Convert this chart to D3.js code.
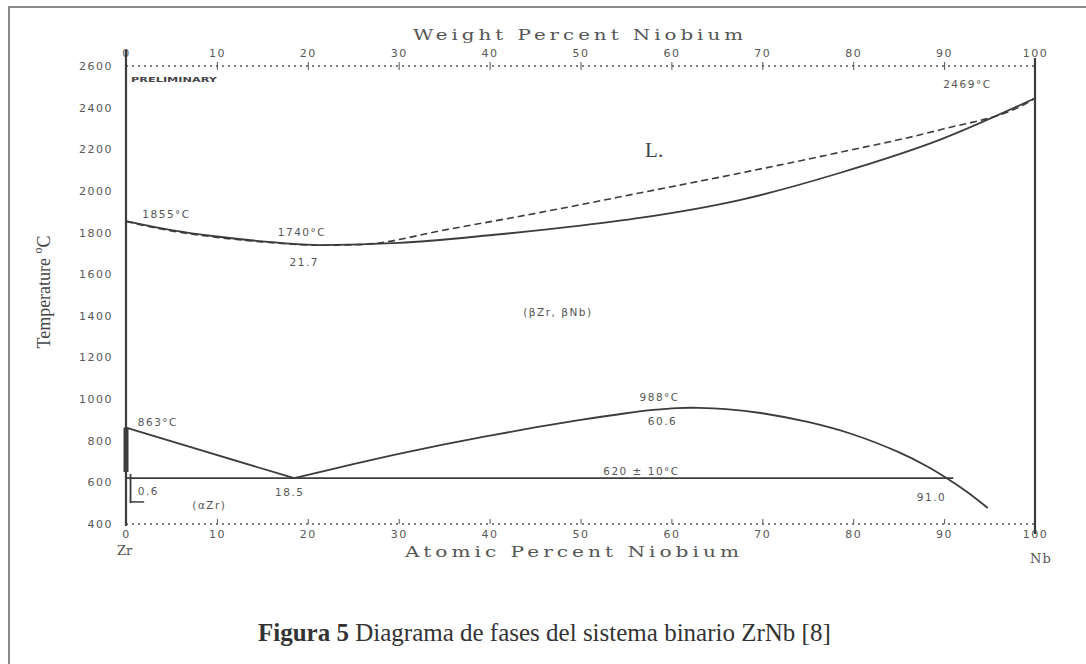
<!DOCTYPE html>
<html>
<head>
<meta charset="utf-8"/>
<script src="https://d3js.org/d3.v7.min.js"></script>
<style>
  body { margin: 0; background: #fff; }
  svg { display: block; }
  .tk text { fill: #585858; font-family: "DejaVu Sans", sans-serif; font-size: 11px; letter-spacing: 1.5px; }
  .tk line { stroke: #555; }
  .note { fill: #555; font-family: "DejaVu Sans", sans-serif; font-size: 10.5px; letter-spacing: 1.5px; }
</style>
</head>
<body>
<script>
// composition ticks (at.% Nb bottom, wt.% Nb top) and temperature ticks
var pctTicks = [0, 10, 20, 30, 40, 50, 60, 70, 80, 90, 100];
var tempTicks = [400, 600, 800, 1000, 1200, 1400, 1600, 1800, 2000, 2200, 2400, 2600];

// liquidus (solid) [at.% Nb, T]
var liquidus = [[0,1855],[5,1812],[10,1781],[15,1758],[21.7,1740],[30,1750],[40,1787],[50,1833],[56.5,1870],[67.5,1956],[78.5,2086],[89.5,2245],[100,2445]];
// solidus (dashed)
var solidus = [[0,1853],[5,1808],[10,1777],[15,1755],[21.7,1739],[25.7,1742],[35.6,1817],[46.6,1905],[56.5,1990],[67.5,2085],[78.5,2185],[89.5,2293],[98.7,2413],[100,2445]];
// beta-Zr -> alpha-Zr boundary
var alphaLine = [[0,863],[18.5,620]];
// miscibility gap (betaZr + betaNb)
var gap = [[18.5,620],[25,688],[30,737],[35,782],[40,824],[45,864],[50,900],[55,932],[58,948],[60.6,957],[63,958],[66,952],[70,932],[75,890],[80,830],[85,745],[88,680],[90.3,620],[92.5,555],[94.8,477]];
// monotectoid isotherm
var monotectoid = [[0,620],[91,620]];
// thick beta-Zr edge on the Zr axis, alpha-Zr solvus and its pointer
var zrEdge = [[0,863],[0,650]];
var alphaSolvus = [[0.5,640],[0.5,500]];
var arrowTick = [[0.5,506],[2.0,506]];

// annotation texts and anchors [text, at.%, T]
var notes = [
  ["1855°C", 1.8, 1884],
  ["1740°C", 16.7, 1798],
  ["21.7", 18.0, 1654],
  ["2469°C", 89.9, 2509],
  ["(βZr, βNb)", 43.7, 1414],
  ["863°C", 1.3, 885],
  ["988°C", 56.5, 1005],
  ["60.6", 57.4, 890],
  ["620 ± 10°C", 52.5, 648],
  ["91.0", 87.0, 525],
  ["18.5", 16.4, 549],
  ["0.6", 1.3, 554],
  ["(αZr)", 7.3, 486]
];

var W = 1086, H = 664;
var svg = d3.select("body").append("svg").attr("width", W).attr("height", H);

// page frame
svg.append("path").attr("d", "M9,664 L9,7 L1086,7")
  .attr("fill", "none").attr("stroke", "#8a8a8a").attr("stroke-width", 2);

var x = d3.scaleLinear().domain([0, 100]).range([126, 1035]);
var y = d3.scaleLinear().domain([400, 2600]).range([524, 66]);

var ink = "#3c3c3c";

// dotted top / bottom borders
[2600, 400].forEach(function(t) {
  svg.append("line")
    .attr("x1", x(0)).attr("x2", x(100)).attr("y1", y(t)).attr("y2", y(t))
    .attr("stroke", "#555").attr("stroke-width", 1.6).attr("stroke-dasharray", "2,4");
});

// top axis (weight percent)
var topAx = svg.append("g").attr("class", "tk")
  .attr("transform", "translate(0," + y(2600) + ")")
  .call(d3.axisTop(x).tickValues(pctTicks).tickSize(4).tickPadding(5));
topAx.select(".domain").remove();
topAx.selectAll(".tick line").attr("y2", 4).attr("y1", -4);

// bottom axis (atomic percent)
var botAx = svg.append("g").attr("class", "tk")
  .attr("transform", "translate(0," + y(400) + ")")
  .call(d3.axisBottom(x).tickValues(pctTicks).tickSize(0).tickPadding(6));
botAx.select(".domain").remove();
botAx.selectAll(".tick").filter(function(d) { return d > 0 && d < 100; })
  .append("line").attr("y1", -5).attr("y2", 0).attr("stroke", "#555");

// left temperature axis
var leftAx = svg.append("g").attr("class", "tk")
  .attr("transform", "translate(" + x(0) + ",0)")
  .call(d3.axisLeft(y).tickValues(tempTicks).tickFormat(d3.format("d")).tickSize(0).tickPadding(13));
leftAx.select(".domain").remove();

// vertical borders
svg.append("line").attr("x1", x(0)).attr("x2", x(0)).attr("y1", 50).attr("y2", y(400) + 2)
  .attr("stroke", ink).attr("stroke-width", 2.2);
svg.append("line").attr("x1", x(100)).attr("x2", x(100)).attr("y1", 58).attr("y2", y(400) + 10)
  .attr("stroke", ink).attr("stroke-width", 2.2);

// curves
var line = d3.line().x(function(d) { return x(d[0]); }).y(function(d) { return y(d[1]); });
var smooth = d3.line().x(function(d) { return x(d[0]); }).y(function(d) { return y(d[1]); })
  .curve(d3.curveMonotoneX);
var round = d3.line().x(function(d) { return x(d[0]); }).y(function(d) { return y(d[1]); })
  .curve(d3.curveCatmullRom.alpha(0.5));

svg.append("path").datum(liquidus).attr("d", smooth)
  .attr("fill", "none").attr("stroke", ink).attr("stroke-width", 1.8);
svg.append("path").datum(solidus).attr("d", smooth)
  .attr("fill", "none").attr("stroke", ink).attr("stroke-width", 1.6).attr("stroke-dasharray", "7,4");
svg.append("path").datum(alphaLine).attr("d", line)
  .attr("fill", "none").attr("stroke", ink).attr("stroke-width", 1.8);
svg.append("path").datum(gap).attr("d", round)
  .attr("fill", "none").attr("stroke", ink).attr("stroke-width", 1.8);
svg.append("path").datum(monotectoid).attr("d", line)
  .attr("fill", "none").attr("stroke", ink).attr("stroke-width", 1.8);
svg.append("path").datum(zrEdge).attr("d", line)
  .attr("fill", "none").attr("stroke", ink).attr("stroke-width", 5);
svg.append("path").datum(alphaSolvus).attr("d", line)
  .attr("fill", "none").attr("stroke", ink).attr("stroke-width", 1.8);
svg.append("path").datum(arrowTick).attr("d", line)
  .attr("fill", "none").attr("stroke", ink).attr("stroke-width", 1.5);

// notes
svg.selectAll("text.note").data(notes).enter().append("text")
  .attr("class", "note")
  .attr("x", function(d) { return x(d[1]); })
  .attr("y", function(d) { return y(d[2]); })
  .attr("dominant-baseline", "middle")
  .text(function(d) { return d[0]; });

// liquid field label
svg.append("text").attr("x", x(58.1)).attr("y", y(2187)).attr("text-anchor", "middle")
  .attr("dominant-baseline", "middle")
  .style("font-family", "'Liberation Serif', serif").style("font-size", "21px").style("fill", "#444")
  .text("L.");

// small stamp under top-left
svg.append("text").attr("x", 131).attr("y", 80).attr("dominant-baseline", "middle")
  .attr("textLength", 86).attr("lengthAdjust", "spacingAndGlyphs")
  .style("font-family", "'DejaVu Sans', sans-serif").style("font-size", "7px").style("font-weight", "bold")
  .style("fill", "#444").text("PRELIMINARY");

// axis titles
svg.append("text").attr("x", 413).attr("y", 36).attr("dominant-baseline", "middle")
  .attr("textLength", 334).attr("lengthAdjust", "spacingAndGlyphs")
  .style("font-family", "'DejaVu Serif', serif").style("font-size", "15px").style("letter-spacing", "3px")
  .style("fill", "#555")
  .text("Weight Percent Niobium");
svg.append("text").attr("x", 405).attr("y", 553).attr("dominant-baseline", "middle")
  .attr("textLength", 338).attr("lengthAdjust", "spacingAndGlyphs")
  .style("font-family", "'DejaVu Serif', serif").style("font-size", "15px").style("letter-spacing", "3px")
  .style("fill", "#555")
  .text("Atomic Percent Niobium");
svg.append("text").attr("x", 117).attr("y", 551).attr("dominant-baseline", "middle")
  .style("font-family", "'DejaVu Serif', serif").style("font-size", "13px").style("fill", "#555")
  .text("Zr");
svg.append("text").attr("x", 1030).attr("y", 559).attr("dominant-baseline", "middle")
  .style("font-family", "'DejaVu Serif', serif").style("font-size", "13px").style("letter-spacing", "1px")
  .style("fill", "#555")
  .text("Nb");

var yt = svg.append("text").attr("transform", "translate(46,292) rotate(-90)")
  .attr("text-anchor", "middle").attr("dominant-baseline", "middle")
  .style("font-family", "'Liberation Serif', serif").style("font-size", "18px").style("fill", "#444");
yt.append("tspan").text("Temperature ");
yt.append("tspan").attr("dy", -7).style("font-size", "12px").text("o");
yt.append("tspan").attr("dy", 7).text("C");

// caption
var cap = svg.append("text").attr("x", 258).attr("y", 641)
  .style("font-family", "'Liberation Serif', serif").style("font-size", "25px").style("fill", "#333");
cap.append("tspan").style("font-weight", "bold").text("Figura 5");
cap.append("tspan").text(" Diagrama de fases del sistema binario ZrNb [8]");
</script>
</body>
</html>
